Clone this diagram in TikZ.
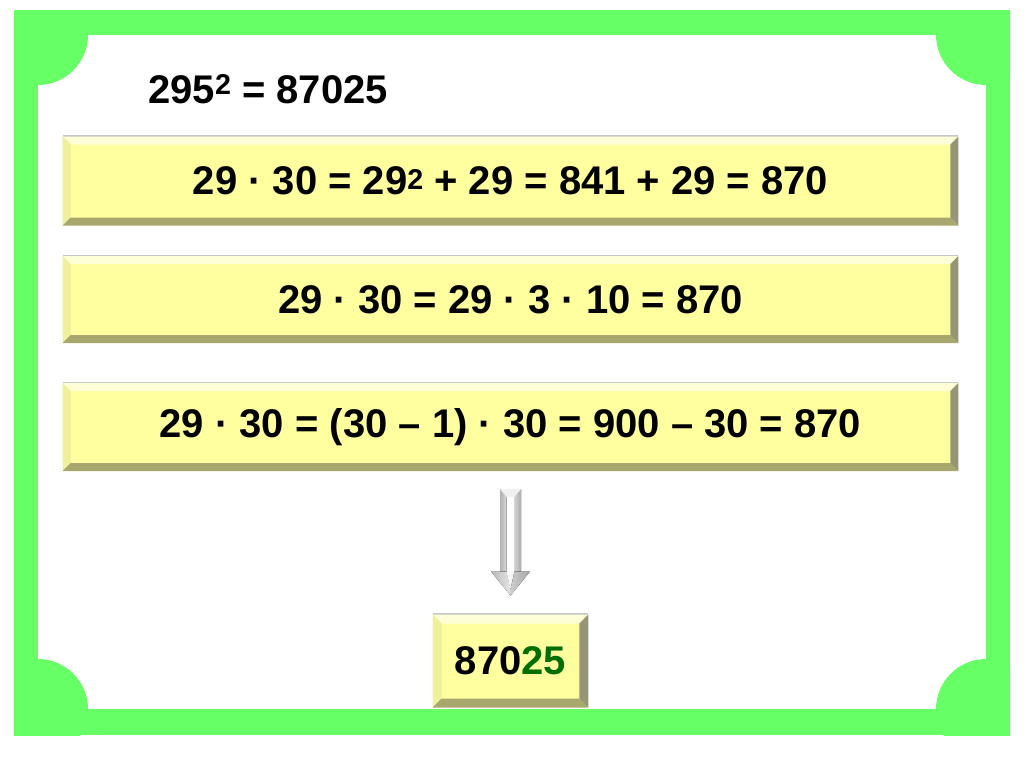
\documentclass[tikz,border=0pt]{standalone}
\usepackage{fontspec}
\setmainfont{Liberation Sans}
\usetikzlibrary{calc,shadows}

\definecolor{framegreen}{RGB}{102,255,102}
\definecolor{boxface}{RGB}{255,255,160}
\definecolor{bevtop}{RGB}{255,255,215}
\definecolor{bevleft}{RGB}{240,240,155}
\definecolor{bevbottom}{RGB}{168,168,110}
\definecolor{bevright}{RGB}{150,150,118}
\definecolor{digitgreen}{RGB}{0,110,0}

\newcommand{\bigfont}{\bfseries\fontsize{30}{35}\selectfont}
\newcommand{\upnum}[2][4pt]{\raisebox{#1}{\bfseries\fontsize{21.5}{22}\selectfont #2}}

\tikzset{every picture/.style={line width=0.75pt}}
\tikzset{
	bevelbox/.style={fill=boxface, inner sep=0pt, font=\bigfont, general shadow={fill=gray!45, shadow yshift=1.5pt}},
	plaintext/.style={inner sep=0pt, font=\bigfont}
}

\begin{document}
\begin{tikzpicture}[x=0.75pt,y=0.75pt,yscale=-1,xscale=1]
	\useasboundingbox (0,0) rectangle (1024,768);
	
	%Shape: Frame
	\fill[framegreen] (14,10) rectangle (1010,735);
	\fill[white] (38,35) rectangle (986,709);
	\begin{scope}
		\clip (14,10) rectangle (1010,735);
		\foreach \cx/\cy in {38/35, 986/35, 38/709, 986/709}
			\fill[framegreen] (\cx,\cy) circle (50);
	\end{scope}
	
	% Text Node
	\node[plaintext, anchor=base west] (square) at (148,103) {295\upnum[6.5pt]{2} = 87025};
	
	% Bevel boxes
	\node[bevelbox, minimum width=671pt, minimum height=66pt] (box1) at (510.5,181) {29 · 30 = 29\upnum{2} + 29 = 841 + 29 = 870};
	\node[bevelbox, minimum width=671pt, minimum height=64.5pt] (box2) at (510.5,299.5) {29 · 30 = 29 · 3 · 10 = 870};
	\node[bevelbox, minimum width=671pt, minimum height=65.25pt] (box3) at (510.5,427) {29 · 30 = (30 – 1) · 30 = 900 – 30 = 870};
	\node[bevelbox, minimum width=116pt, minimum height=69pt] (res) at (510.5,661) {870\textcolor{digitgreen}{25}};
	
	% Bevels
	\foreach \b/\d in {box1/8, box2/8, box3/8, res/9} {
		\fill[bevtop] (\b.north west) -- (\b.north east) -- ($(\b.north east)+(-\d,\d)$) -- ($(\b.north west)+(\d,\d)$) -- cycle;
		\fill[bevleft] (\b.north west) -- ($(\b.north west)+(\d,\d)$) -- ($(\b.south west)+(\d,-\d)$) -- (\b.south west) -- cycle;
		\fill[bevbottom] (\b.south west) -- ($(\b.south west)+(\d,-\d)$) -- ($(\b.south east)+(-\d,-\d)$) -- (\b.south east) -- cycle;
		\fill[bevright] (\b.north east) -- (\b.south east) -- ($(\b.south east)+(-\d,-\d)$) -- ($(\b.north east)+(-\d,\d)$) -- cycle;
	}
	
	% Block arrow
	\coordinate (atop) at ($(box3.south)+(0,18)$);
	\coordinate (atip) at ($(res.north)+(0,-19)$);
	\coordinate (aneck) at ($(atip)+(0,-24)$);
	% shaft faces
	\fill[left color=gray!60, right color=gray!30] ($(atop)+(-10.5,0)$) -- ($(atop)+(-4,8)$) -- ($(aneck)+(-4,0)$) -- ($(aneck)+(-10.5,0)$) -- cycle;
	\fill[white] ($(atop)+(-4,8)$) -- ($(atop)+(4,8)$) -- ($(aneck)+(4,0)$) -- ($(aneck)+(-4,0)$) -- cycle;
	\fill[left color=gray!35, right color=gray!65] ($(atop)+(4,8)$) -- ($(atop)+(10.5,0)$) -- ($(aneck)+(10.5,0)$) -- ($(aneck)+(4,0)$) -- cycle;
	\fill[gray!12] ($(atop)+(-10.5,0)$) -- ($(atop)+(10.5,0)$) -- ($(atop)+(4,8)$) -- ($(atop)+(-4,8)$) -- cycle;
	% head faces
	\fill[left color=gray!55, right color=gray!20] ($(aneck)+(-19.5,0)$) -- ($(aneck)+(-4,0)$) -- ($(atip)+(0,-6)$) -- (atip) -- cycle;
	\fill[gray!8] ($(aneck)+(-4,0)$) -- ($(aneck)+(4,0)$) -- ($(atip)+(0,-6)$) -- cycle;
	\fill[left color=gray!40, right color=gray!70] ($(aneck)+(4,0)$) -- ($(aneck)+(19.5,0)$) -- (atip) -- ($(atip)+(0,-6)$) -- cycle;
	
\end{tikzpicture}
\end{document}
